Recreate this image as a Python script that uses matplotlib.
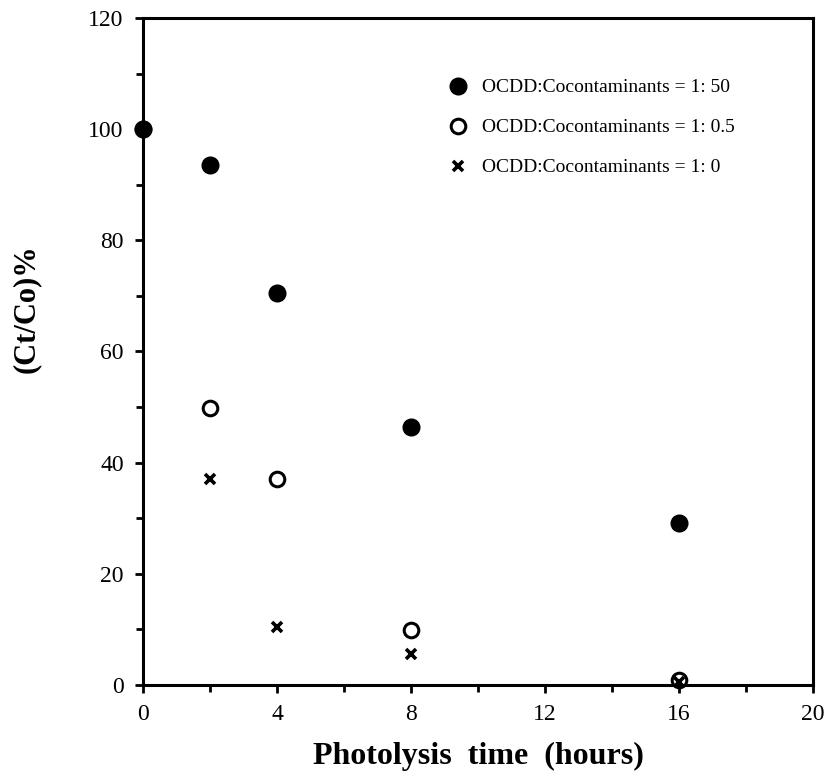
import matplotlib
matplotlib.use("Agg")
import matplotlib.pyplot as plt
from matplotlib.ticker import MultipleLocator

time_h = [0, 2, 4, 8, 16]
ratio_50 = [100, 93.5, 70.5, 46.5, 29.2]
ratio_05 = [100, 49.8, 37.0, 9.9, 0.9]
ratio_0 = [100, 37.0, 10.4, 5.6, 0.5]
labels = ["OCDD:Cocontaminants = 1: 50",
          "OCDD:Cocontaminants = 1: 0.5",
          "OCDD:Cocontaminants = 1: 0"]

plt.rcParams['font.family'] = ['Liberation Serif', 'DejaVu Serif']

fig = plt.figure(figsize=(8.27, 7.72), dpi=100)
ax = fig.add_axes([0.173, 0.1127, 0.810, 0.864])

h1, = ax.plot(time_h, ratio_50, 'o', color='black', markersize=12, clip_on=False, zorder=3)
h2, = ax.plot(time_h, ratio_05, 'o', markerfacecolor='none', markeredgecolor='black',
              markeredgewidth=2.2, markersize=10.5, clip_on=False, zorder=4)
h3, = ax.plot(time_h, ratio_0, 'x', color='black', markeredgewidth=2.6, markersize=6.5,
              clip_on=False, zorder=5)

ax.set_xlim(0, 20)
ax.set_ylim(0, 120)
ax.xaxis.set_major_locator(MultipleLocator(4))
ax.xaxis.set_minor_locator(MultipleLocator(2))
ax.yaxis.set_major_locator(MultipleLocator(20))
ax.yaxis.set_minor_locator(MultipleLocator(10))
ax.tick_params(which='both', direction='out', width=2, top=False, right=False,
               labelsize=17)
ax.tick_params(which='major', length=6, pad=8)
ax.tick_params(which='minor', length=5)
for s in ax.spines.values():
    s.set_linewidth(2.2)

ax.set_xlabel("Photolysis  time  (hours)", fontsize=23, fontweight='bold', labelpad=12)
ax.set_ylabel("(Ct/Co)%", fontsize=22, fontweight='bold')
ax.yaxis.set_label_coords(-0.152, 0.565)

leg = ax.legend([h1, h2, h3], labels, loc='upper left', bbox_to_anchor=(0.43, 0.935),
                frameon=False, fontsize=14, handletextpad=0.7, labelspacing=1.15,
                handlelength=1.0)

fig.savefig("out.png", dpi=100)
